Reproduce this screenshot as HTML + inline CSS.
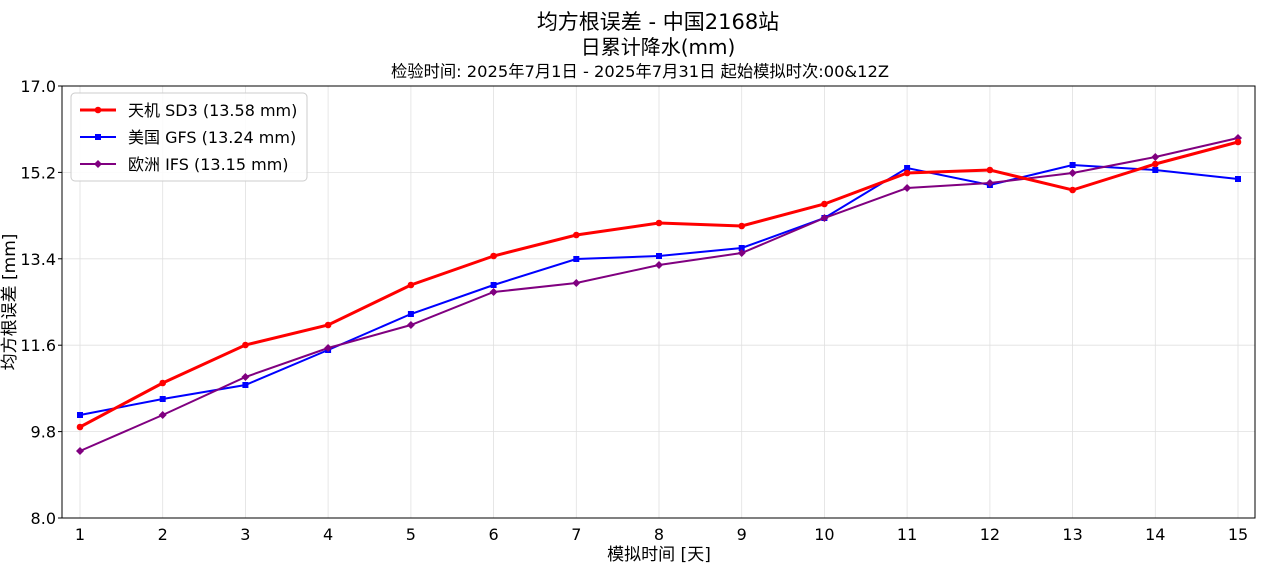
<!DOCTYPE html>
<html><head><meta charset="utf-8"><style>
body{margin:0;background:#fff;}
text{font-family:"DejaVu Sans","Noto Sans CJK SC",sans-serif;fill:#000;}
</style></head><body>
<svg width="1280" height="576" xmlns="http://www.w3.org/2000/svg">
<rect width="1280" height="576" fill="#fff"/>
<text x="658" y="29" font-size="21" text-anchor="middle">均方根误差 - 中国2168站</text>
<text x="658" y="54" font-size="20" text-anchor="middle">日累计降水(mm)</text>
<text x="640" y="77" font-size="16.3" text-anchor="middle">检验时间: 2025年7月1日 - 2025年7月31日 起始模拟时次:00&amp;12Z</text>
<g stroke="#e0e0e0" stroke-width="0.8">
<line x1="80" y1="86" x2="80" y2="518"/><line x1="162.7" y1="86" x2="162.7" y2="518"/><line x1="245.4" y1="86" x2="245.4" y2="518"/><line x1="328.1" y1="86" x2="328.1" y2="518"/><line x1="410.9" y1="86" x2="410.9" y2="518"/><line x1="493.6" y1="86" x2="493.6" y2="518"/><line x1="576.3" y1="86" x2="576.3" y2="518"/><line x1="659" y1="86" x2="659" y2="518"/><line x1="741.7" y1="86" x2="741.7" y2="518"/><line x1="824.4" y1="86" x2="824.4" y2="518"/><line x1="907.1" y1="86" x2="907.1" y2="518"/><line x1="989.9" y1="86" x2="989.9" y2="518"/><line x1="1072.6" y1="86" x2="1072.6" y2="518"/><line x1="1155.3" y1="86" x2="1155.3" y2="518"/><line x1="1238" y1="86" x2="1238" y2="518"/>
<line x1="62" y1="431.6" x2="1255" y2="431.6"/><line x1="62" y1="345.2" x2="1255" y2="345.2"/><line x1="62" y1="258.8" x2="1255" y2="258.8"/><line x1="62" y1="172.4" x2="1255" y2="172.4"/>
</g>
<rect x="62" y="86" width="1193" height="432" fill="none" stroke="#000" stroke-width="1"/>
<g font-size="16" text-anchor="end">
<text x="56" y="524">8.0</text><text x="56" y="437.6">9.8</text><text x="56" y="351.2">11.6</text><text x="56" y="264.8">13.4</text><text x="56" y="178.4">15.2</text><text x="56" y="92">17.0</text>
</g>
<g stroke="#000"><line x1="58" y1="518" x2="62" y2="518"/><line x1="58" y1="431.6" x2="62" y2="431.6"/><line x1="58" y1="345.2" x2="62" y2="345.2"/><line x1="58" y1="258.8" x2="62" y2="258.8"/><line x1="58" y1="172.4" x2="62" y2="172.4"/><line x1="58" y1="86" x2="62" y2="86"/></g>
<g font-size="16" text-anchor="middle">
<text x="80" y="540">1</text><text x="162.7" y="540">2</text><text x="245.4" y="540">3</text><text x="328.1" y="540">4</text><text x="410.9" y="540">5</text><text x="493.6" y="540">6</text><text x="576.3" y="540">7</text><text x="659" y="540">8</text><text x="741.7" y="540">9</text><text x="824.4" y="540">10</text><text x="907.1" y="540">11</text><text x="989.9" y="540">12</text><text x="1072.6" y="540">13</text><text x="1155.3" y="540">14</text><text x="1238" y="540">15</text>
</g>
<text x="659" y="560" font-size="17" text-anchor="middle">模拟时间 [天]</text>
<text transform="translate(15,302) rotate(-90)" font-size="17" text-anchor="middle">均方根误差 [mm]</text>
<polyline fill="none" stroke="#0000ff" stroke-width="2" points="80,415 162.7,399 245.4,385 328.1,350 410.9,314 493.6,285 576.3,259 659,256 741.7,248 824.4,218 907.1,168 989.9,185 1072.6,165 1155.3,170 1238,179"/>
<g fill="#0000ff"><rect x="77" y="412" width="6" height="6"/><rect x="159.7" y="396" width="6" height="6"/><rect x="242.4" y="382" width="6" height="6"/><rect x="325.1" y="347" width="6" height="6"/><rect x="407.9" y="311" width="6" height="6"/><rect x="490.6" y="282" width="6" height="6"/><rect x="573.3" y="256" width="6" height="6"/><rect x="656" y="253" width="6" height="6"/><rect x="738.7" y="245" width="6" height="6"/><rect x="821.4" y="215" width="6" height="6"/><rect x="904.1" y="165" width="6" height="6"/><rect x="986.9" y="182" width="6" height="6"/><rect x="1069.6" y="162" width="6" height="6"/><rect x="1152.3" y="167" width="6" height="6"/><rect x="1235" y="176" width="6" height="6"/></g>
<polyline fill="none" stroke="#800080" stroke-width="2" points="80,451 162.7,415 245.4,377 328.1,348 410.9,325 493.6,292 576.3,283 659,265 741.7,253 824.4,218 907.1,188 989.9,183 1072.6,173 1155.3,157 1238,138"/>
<g fill="#800080">
<path d="M80 447l4 4-4 4-4-4z"/><path d="M162.7 411l4 4-4 4-4-4z"/><path d="M245.4 373l4 4-4 4-4-4z"/><path d="M328.1 344l4 4-4 4-4-4z"/><path d="M410.9 321l4 4-4 4-4-4z"/><path d="M493.6 288l4 4-4 4-4-4z"/><path d="M576.3 279l4 4-4 4-4-4z"/><path d="M659 261l4 4-4 4-4-4z"/><path d="M741.7 249l4 4-4 4-4-4z"/><path d="M824.4 214l4 4-4 4-4-4z"/><path d="M907.1 184l4 4-4 4-4-4z"/><path d="M989.9 179l4 4-4 4-4-4z"/><path d="M1072.6 169l4 4-4 4-4-4z"/><path d="M1155.3 153l4 4-4 4-4-4z"/><path d="M1238 134l4 4-4 4-4-4z"/></g>
<polyline fill="none" stroke="#ff0000" stroke-width="3" points="80,427 162.7,383 245.4,345 328.1,325 410.9,285 493.6,256 576.3,235 659,223 741.7,226 824.4,204 907.1,173 989.9,170 1072.6,190 1155.3,164 1238,142"/>
<g fill="#ff0000"><circle cx="80" cy="427" r="3.3"/><circle cx="162.7" cy="383" r="3.3"/><circle cx="245.4" cy="345" r="3.3"/><circle cx="328.1" cy="325" r="3.3"/><circle cx="410.9" cy="285" r="3.3"/><circle cx="493.6" cy="256" r="3.3"/><circle cx="576.3" cy="235" r="3.3"/><circle cx="659" cy="223" r="3.3"/><circle cx="741.7" cy="226" r="3.3"/><circle cx="824.4" cy="204" r="3.3"/><circle cx="907.1" cy="173" r="3.3"/><circle cx="989.9" cy="170" r="3.3"/><circle cx="1072.6" cy="190" r="3.3"/><circle cx="1155.3" cy="164" r="3.3"/><circle cx="1238" cy="142" r="3.3"/></g>
<rect x="71" y="93" width="236" height="88" rx="4" fill="#fff" fill-opacity="0.85" stroke="#ccc"/>
<line x1="80" y1="110" x2="116" y2="110" stroke="#ff0000" stroke-width="3"/><circle cx="98" cy="110" r="3.3" fill="#ff0000"/>
<text x="128" y="116" font-size="16">天机 SD3 (13.58 mm)</text>
<line x1="80" y1="137" x2="116" y2="137" stroke="#0000ff" stroke-width="2"/><rect x="95" y="134" width="6" height="6" fill="#0000ff"/>
<text x="128" y="143" font-size="16">美国 GFS (13.24 mm)</text>
<line x1="80" y1="164" x2="116" y2="164" stroke="#800080" stroke-width="2"/><path d="M98 160l4 4-4 4-4-4z" fill="#800080"/>
<text x="128" y="170" font-size="16">欧洲 IFS (13.15 mm)</text>
</svg>
</body></html>
